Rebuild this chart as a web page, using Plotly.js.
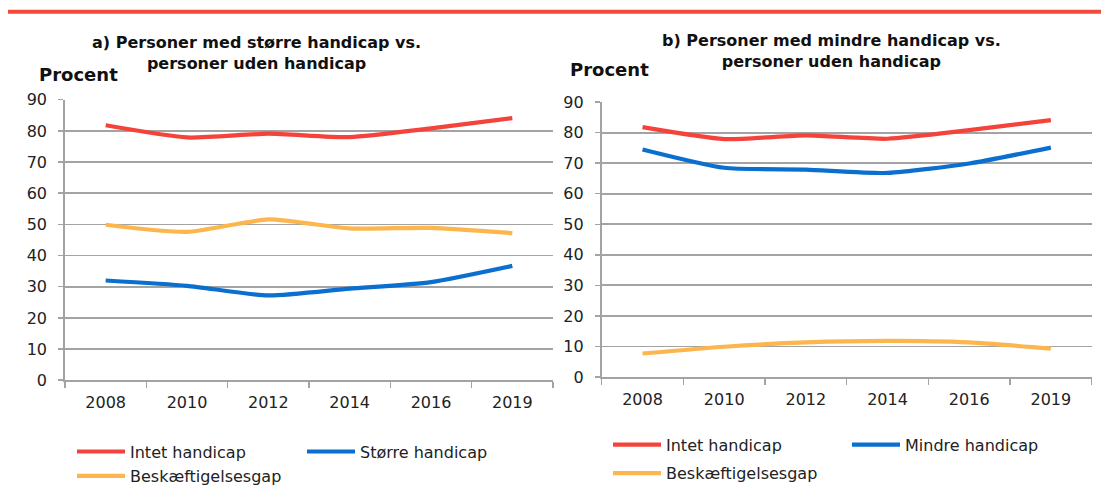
<!DOCTYPE html>
<html>
<head>
<meta charset="utf-8">
<script src="https://cdn.plot.ly/plotly-3.0.1.min.js"></script>
<style>
html,body{margin:0;padding:0;background:#fff;}
#chart{width:1101px;height:493px;}
</style>
</head>
<body>
<div id="chart"></div>
<script>
// ---- data ----
var years = ['2008', '2010', '2012', '2014', '2016', '2019'];
var intetHandicap = [81.8, 77.9, 79.1, 78.0, 80.8, 84.1];
var stoerreHandicap = [32.0, 30.3, 27.2, 29.4, 31.5, 36.7];
var gapStoerre = [49.9, 47.6, 51.6, 48.7, 48.9, 47.2];
var mindreHandicap = [74.5, 68.5, 67.9, 66.8, 69.9, 75.1];
var gapMindre = [7.7, 9.9, 11.3, 11.8, 11.3, 9.3];
var yTicks = [0, 10, 20, 30, 40, 50, 60, 70, 80, 90];

var titleA = 'a) Personer med større handicap vs.<br>personer uden handicap';
var titleB = 'b) Personer med mindre handicap vs.<br>personer uden handicap';
var yLabel = 'Procent';
var names = {intet: 'Intet handicap', stoerre: 'Større handicap', mindre: 'Mindre handicap', gap: 'Beskæftigelsesgap'};

// ---- styles ----
var RED = '#F4433A', BLUE = '#0A6FCF', ORANGE = '#FDB64E';
var GRID = '#A3A3A3';
var W = 1101, H = 493;
var FONT = 'DejaVu Sans, Arial, sans-serif';

function px(x) { return x / W; }
function py(y) { return 1 - y / H; }

function line(x, y, name, color, xa, ya, leg) {
  return {
    type: 'scatter', mode: 'lines', x: x, y: y, name: name,
    xaxis: xa, yaxis: ya, legend: leg,
    line: {color: color, width: 4.2, shape: 'spline', smoothing: 0.6},
    hoverinfo: 'x+y+name'
  };
}

var traces = [
  line(years, intetHandicap, names.intet, RED, 'x', 'y', 'legend'),
  line(years, stoerreHandicap, names.stoerre, BLUE, 'x', 'y', 'legend2'),
  line(years, gapStoerre, names.gap, ORANGE, 'x', 'y', 'legend3'),
  line(years, intetHandicap, names.intet, RED, 'x2', 'y2', 'legend4'),
  line(years, mindreHandicap, names.mindre, BLUE, 'x2', 'y2', 'legend5'),
  line(years, gapMindre, names.gap, ORANGE, 'x2', 'y2', 'legend6')
];

function xAxis(domain, anchor) {
  return {
    domain: domain, anchor: anchor, type: 'category',
    range: [-0.5, years.length - 0.5],
    showgrid: false, zeroline: false,
    showline: true, linecolor: GRID, linewidth: 1.8,
    ticks: 'outside', tickson: 'boundaries', ticklen: 6, tickcolor: GRID, tickwidth: 1.5,
    tickfont: {family: FONT, size: 16, color: '#222'},
    ticklabelstandoff: 7,
    fixedrange: true
  };
}
function yAxis(domain, anchor) {
  return {
    domain: domain, anchor: anchor,
    range: [0, 90], tickvals: yTicks,
    showgrid: true, gridcolor: GRID, gridwidth: 1.8,
    zeroline: false,
    showline: true, linecolor: GRID, linewidth: 1.8,
    ticks: 'outside', ticklen: 5, tickcolor: GRID, tickwidth: 1.5,
    tickfont: {family: FONT, size: 16, color: '#222'},
    ticklabelstandoff: 8,
    fixedrange: true
  };
}

function legendAt(xPx, yPx) {
  return {
    x: px(xPx), y: py(yPx), xanchor: 'left', yanchor: 'middle',
    orientation: 'h', bgcolor: 'rgba(0,0,0,0)', borderwidth: 0,
    font: {family: FONT, size: 16, color: '#222'},
    itemwidth: 48, itemclick: false, itemdoubleclick: false
  };
}

var layout = {
  width: W, height: H,
  margin: {l: 0, r: 0, t: 0, b: 0},
  paper_bgcolor: '#fff', plot_bgcolor: '#fff',
  showlegend: true,
  xaxis: xAxis([px(65), px(553)], 'y'),
  yaxis: yAxis([py(387.3), py(101.6)], 'x'),
  xaxis2: xAxis([px(601.7), px(1091.7)], 'y2'),
  yaxis2: yAxis([py(384), py(104)], 'x2'),
  legend: legendAt(72, 460),
  legend2: legendAt(302, 460),
  legend3: legendAt(72, 485),
  legend4: legendAt(608, 453),
  legend5: legendAt(847, 453),
  legend6: legendAt(608, 482),
  shapes: [
    {type: 'line', xref: 'paper', yref: 'paper', x0: px(8), x1: 1, y0: py(12), y1: py(12),
     line: {color: '#F24A3B', width: 4}}
  ],
  annotations: [
    {text: titleA, xref: 'paper', yref: 'paper', x: px(256), y: py(54), xanchor: 'center', yanchor: 'middle',
     showarrow: false, align: 'center', font: {family: FONT, size: 16, color: '#111', weight: 'bold'}},
    {text: titleB, xref: 'paper', yref: 'paper', x: px(831), y: py(52), xanchor: 'center', yanchor: 'middle',
     showarrow: false, align: 'center', font: {family: FONT, size: 16, color: '#111', weight: 'bold'}},
    {text: yLabel, xref: 'paper', yref: 'paper', x: px(37), y: py(76), xanchor: 'left', yanchor: 'middle',
     showarrow: false, font: {family: FONT, size: 18, color: '#111', weight: 'bold'}},
    {text: yLabel, xref: 'paper', yref: 'paper', x: px(568), y: py(71), xanchor: 'left', yanchor: 'middle',
     showarrow: false, font: {family: FONT, size: 18, color: '#111', weight: 'bold'}}
  ]
};

Plotly.newPlot('chart', traces, layout, {displayModeBar: false, staticPlot: true});
</script>
</body>
</html>
